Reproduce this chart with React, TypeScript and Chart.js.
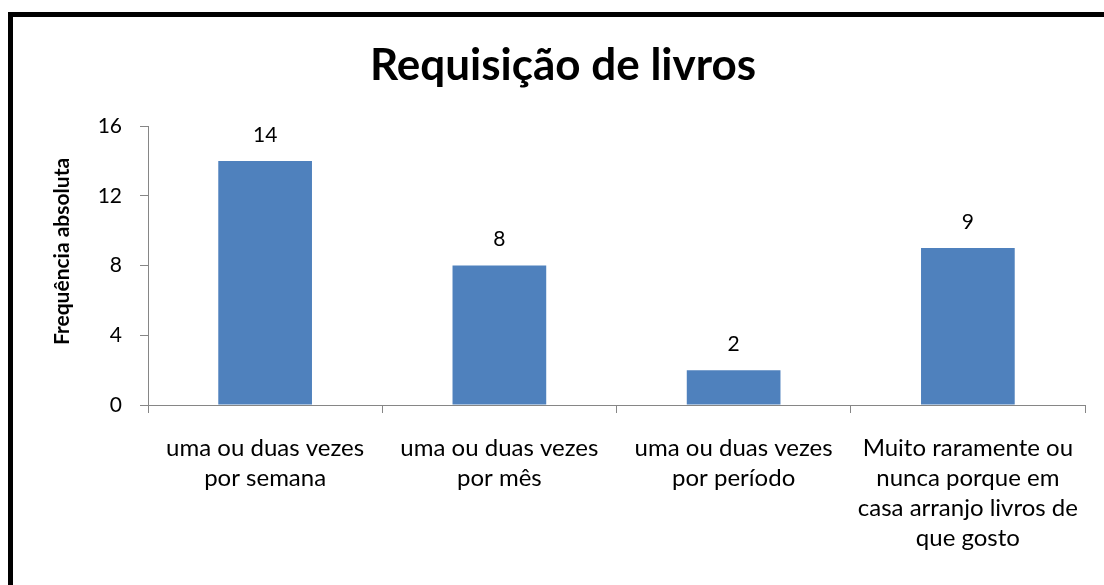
import { useEffect, useRef } from "react";
import { Chart, registerables } from "chart.js";

Chart.register(...registerables);

const chartTitle = "Requisição de livros";
const yAxisTitle = "Frequência absoluta";
const categories: string[][] = [
  ["uma ou duas vezes", "por semana"],
  ["uma ou duas vezes", "por mês"],
  ["uma ou duas vezes", "por período"],
  ["Muito raramente ou", "nunca porque em", "casa arranjo livros de", "que gosto"],
];
const values = [14, 8, 2, 9];
const yMin = 0;
const yMax = 16;
const yStep = 4;

const FONT = "Lato, 'Open Sans', sans-serif";

const labelPlugin = {
  id: "labelsAndTitle",
  afterDatasetsDraw(chart: any) {
    const ctx = chart.ctx;
    ctx.save();
    ctx.fillStyle = "#000";
    ctx.textAlign = "center";
    ctx.textBaseline = "middle";
    ctx.font = `21px ${FONT}`;
    const meta = chart.getDatasetMeta(0);
    meta.data.forEach((bar: any, i: number) => {
      ctx.fillText(String(values[i]), bar.x, bar.y - 26);
    });
    ctx.font = `bold 44px ${FONT}`;
    ctx.textBaseline = "alphabetic";
    ctx.fillText(chartTitle, chart.width / 2, 63);
    // y axis title
    ctx.translate(49, chart.chartArea.top + (chart.chartArea.bottom - chart.chartArea.top) / 2 - 14);
    ctx.rotate(-Math.PI / 2);
    ctx.textBaseline = "middle";
    ctx.font = `bold 21px ${FONT}`;
    ctx.fillText(yAxisTitle, 0, 0);
    ctx.restore();
  },
};

export default function App() {
  const ref = useRef<HTMLCanvasElement | null>(null);
  useEffect(() => {
    if (!ref.current) return;
    const chart = new Chart(ref.current, {
      type: "bar",
      data: {
        labels: categories,
        datasets: [
          {
            data: values,
            backgroundColor: "#4F81BD",
            borderWidth: 0,
            categoryPercentage: 0.4,
            barPercentage: 1,
          },
        ],
      },
      options: {
        animation: false,
        responsive: false,
        maintainAspectRatio: false,
        layout: { padding: { top: 109, right: 28, left: 0, bottom: 0 } },
        plugins: {
          legend: { display: false },
          tooltip: { enabled: false },
          title: { display: false },
        },
        scales: {
          x: {
            grid: {
              display: true,
              drawOnChartArea: false,
              offset: true,
              tickLength: 8,
              color: "#868686",
            },
            border: { color: "#868686", width: 1 },
            ticks: {
              color: "#000",
              font: { family: FONT, size: 24, lineHeight: 1.25 },
              padding: 20,
              maxRotation: 0,
              autoSkip: false,
            },
            afterFit(s: any) {
              s.height = 180;
            },
          },
          y: {
            min: yMin,
            max: yMax,
            grid: {
              display: true,
              drawOnChartArea: false,
              tickLength: 8,
              color: "#868686",
            },
            border: { color: "#868686", width: 1 },
            ticks: {
              stepSize: yStep,
              color: "#000",
              font: { family: FONT, size: 21 },
              padding: 18,
            },
            title: { display: false },
            afterFit(s: any) {
              s.width = 135;
            },
          },
        },
      },
      plugins: [labelPlugin],
    });
    return () => chart.destroy();
  }, []);

  return (
    <div
      style={{
        position: "fixed",
        left: 0,
        top: 0,
        width: "100vw",
        height: "100vh",
        overflow: "hidden",
        background: "#fff",
      }}
    >
      <div
        style={{
          position: "absolute",
          left: 8,
          top: 12,
          width: 1110,
          height: 600,
          border: "5px solid #000",
          boxSizing: "border-box",
          background: "#fff",
        }}
      >
        <canvas
          ref={ref}
          width={1100}
          height={568}
          style={{ position: "absolute", left: 0, top: 0, width: 1100, height: 568 }}
        />
      </div>
    </div>
  );
}
